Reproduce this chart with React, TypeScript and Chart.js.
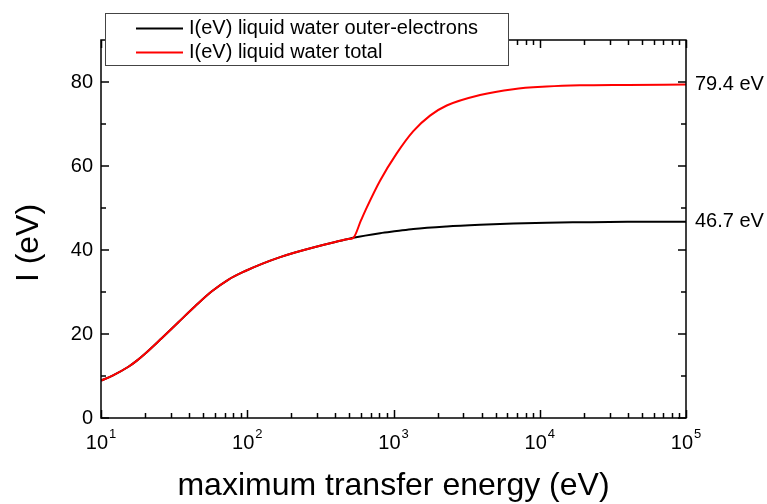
import { useEffect, useRef } from "react";
import { Chart, registerables } from "chart.js";

Chart.register(...registerables);

// Outer-electron mean excitation energy (black)
const outerEnergy = [10, 12, 15.4, 17.5, 20, 26, 33.8, 44, 57, 74, 97, 126, 168, 212, 283, 400, 490, 531, 809, 1052, 1366, 2311, 3905, 6594, 11140, 18840, 40000, 100000];
const outerI = [8.9, 10.1, 12.2, 13.6, 15.3, 19.0, 22.8, 26.6, 30.1, 32.9, 35.0, 36.7, 38.3, 39.4, 40.6, 41.9, 42.6, 42.9, 44.0, 44.5, 45.0, 45.6, 46.0, 46.3, 46.5, 46.6, 46.7, 46.7];

// Total mean excitation energy (red)
const totalEnergy = [10, 12, 15.4, 17.5, 20, 26, 33.8, 44, 57, 74, 97, 126, 168, 212, 283, 400, 490, 531, 600, 656, 809, 1052, 1366, 1777, 2311, 3905, 6594, 11140, 18840, 40000, 100000];
const totalI = [8.9, 10.1, 12.2, 13.6, 15.3, 19.0, 22.8, 26.6, 30.1, 32.9, 35.0, 36.7, 38.3, 39.4, 40.6, 41.9, 42.6, 42.9, 47.1, 50.1, 56.5, 63.0, 68.3, 72.0, 74.4, 76.9, 78.3, 78.9, 79.2, 79.3, 79.4];

const seriesLabels = ["I(eV) liquid water outer-electrons", "I(eV) liquid water total"];
const seriesColors = ["#000000", "#ff0000"];
const xTickExponents = [1, 2, 3, 4, 5];
const yTickValues = [0, 20, 40, 60, 80];
const yMinorValues = [10, 30, 50, 70];
const endLabels = ["79.4 eV", "46.7 eV"];
const endValues = [79.4, 46.7];
const xTitle = "maximum transfer energy (eV)";
const yTitle = "I (eV)";

const FONT = '"Liberation Sans", Arial, Helvetica, sans-serif';

const framePlugin = {
  id: "framePlugin",
  afterDatasetsDraw(chart: any) {
    const { ctx, chartArea: a, scales } = chart;
    const xs = scales.x;
    const ys = scales.y;
    ctx.save();
    ctx.strokeStyle = "#000";
    ctx.lineWidth = 1.5;
    ctx.strokeRect(a.left, a.top, a.right - a.left, a.bottom - a.top);

    const line = (x1: number, y1: number, x2: number, y2: number) => {
      ctx.beginPath();
      ctx.moveTo(x1, y1);
      ctx.lineTo(x2, y2);
      ctx.stroke();
    };

    // x ticks (major + minor), inward, bottom and top
    for (let e = 1; e <= 5; e++) {
      for (let m = 1; m <= 9; m++) {
        const v = m * Math.pow(10, e);
        if (v > 1e5) break;
        const px = Math.round(xs.getPixelForValue(v)) + 0.5;
        const len = m === 1 ? 8 : 5;
        line(px, a.bottom, px, a.bottom - len);
        line(px, a.top, px, a.top + len);
      }
    }
    // y ticks
    yTickValues.forEach((v) => {
      const py = ys.getPixelForValue(v);
      line(a.left, py, a.left + 8, py);
      line(a.right, py, a.right - 8, py);
    });
    yMinorValues.forEach((v) => {
      const py = ys.getPixelForValue(v);
      line(a.left, py, a.left + 5, py);
      line(a.right, py, a.right - 5, py);
    });

    ctx.fillStyle = "#000";
    // y tick labels
    ctx.font = `20px ${FONT}`;
    ctx.textAlign = "right";
    ctx.textBaseline = "middle";
    yTickValues.forEach((v) => {
      ctx.fillText(String(v), a.left - 8, ys.getPixelForValue(v));
    });

    // x tick labels 10^n
    xTickExponents.forEach((ex) => {
      const px = xs.getPixelForValue(Math.pow(10, ex));
      ctx.font = `20px ${FONT}`;
      const w1 = ctx.measureText("10").width;
      ctx.font = `13px ${FONT}`;
      const w2 = ctx.measureText(String(ex)).width;
      const start = px - (w1 + w2 + 1) / 2;
      ctx.textAlign = "left";
      ctx.textBaseline = "alphabetic";
      ctx.font = `20px ${FONT}`;
      ctx.fillText("10", start, 449);
      ctx.font = `13px ${FONT}`;
      ctx.fillText(String(ex), start + w1 + 1, 438);
    });

    // right-side value labels
    ctx.font = `20px ${FONT}`;
    ctx.textAlign = "left";
    ctx.textBaseline = "middle";
    endLabels.forEach((t, i) => {
      ctx.fillText(t, a.right + 9, ys.getPixelForValue(endValues[i]));
    });

    // axis titles
    ctx.font = `32px ${FONT}`;
    ctx.textAlign = "center";
    ctx.textBaseline = "alphabetic";
    ctx.fillText(xTitle, (a.left + a.right) / 2, 495);
    ctx.save();
    ctx.translate(38, 243);
    ctx.rotate(-Math.PI / 2);
    ctx.fillText(yTitle, 0, 0);
    ctx.restore();

    // legend box
    const bx = 105.5, by = 13.5, bw = 403, bh = 52;
    ctx.fillStyle = "#fff";
    ctx.fillRect(bx, by, bw, bh);
    ctx.strokeStyle = "#444";
    ctx.lineWidth = 1;
    ctx.strokeRect(bx, by, bw, bh);
    const rows = [28.5, 52.5];
    seriesLabels.forEach((lab, i) => {
      ctx.strokeStyle = seriesColors[i];
      ctx.lineWidth = 2;
      line(136, rows[i], 183, rows[i]);
      ctx.fillStyle = "#000";
      ctx.font = `20px ${FONT}`;
      ctx.textAlign = "left";
      ctx.textBaseline = "middle";
      ctx.fillText(lab, 189, rows[i]);
    });
    ctx.restore();
  },
};

export default function App() {
  const ref = useRef<HTMLCanvasElement | null>(null);
  useEffect(() => {
    if (!ref.current) return;
    const toPts = (xs: number[], ys: number[]) => xs.map((x, i) => ({ x, y: ys[i] }));
    const chart = new Chart(ref.current, {
      type: "line",
      data: {
        datasets: [
          {
            label: seriesLabels[0],
            data: toPts(outerEnergy, outerI),
            borderColor: seriesColors[0],
            borderWidth: 2,
            pointRadius: 0,
            cubicInterpolationMode: "monotone",
            order: 2,
          },
          {
            label: seriesLabels[1],
            data: toPts(totalEnergy, totalI),
            borderColor: seriesColors[1],
            borderWidth: 2,
            pointRadius: 0,
            cubicInterpolationMode: "monotone",
            order: 1,
          },
        ],
      },
      options: {
        responsive: false,
        animation: false,
        layout: { padding: { top: 40, right: 81, left: 0, bottom: 0 } },
        plugins: { legend: { display: false }, tooltip: { enabled: false } },
        scales: {
          x: {
            type: "logarithmic",
            min: 10,
            max: 100000,
            ticks: { display: false },
            grid: { display: false },
            border: { display: false },
            afterFit: (s: any) => {
              s.height = 86;
            },
          },
          y: {
            type: "linear",
            min: 0,
            max: 90,
            ticks: { display: false },
            grid: { display: false },
            border: { display: false },
            afterFit: (s: any) => {
              s.width = 101;
            },
          },
        },
      },
      plugins: [framePlugin],
    } as any);
    return () => chart.destroy();
  }, []);
  return (
    <div style={{ position: "absolute", left: 0, top: 0, width: 767, height: 504, background: "#fff" }}>
      <canvas ref={ref} width={767} height={504} style={{ display: "block" }} />
    </div>
  );
}
